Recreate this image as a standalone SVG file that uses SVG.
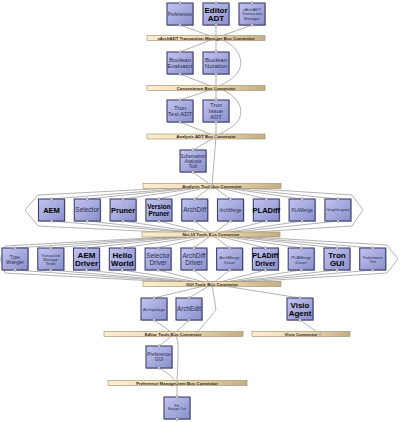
<svg xmlns="http://www.w3.org/2000/svg" width="400" height="422" viewBox="0 0 400 422">
<defs>
<linearGradient id="gBox" x1="0" y1="0" x2="1" y2="1">
<stop offset="0" stop-color="#c2c5f0"/>
<stop offset="1" stop-color="#8b8fcb"/>
</linearGradient>
<linearGradient id="gBar" x1="0" y1="0" x2="1" y2="0">
<stop offset="0" stop-color="#fbedcf"/>
<stop offset="0.6" stop-color="#ead7ad"/>
<stop offset="1" stop-color="#c3ae84"/>
</linearGradient>
<g id="box">
<rect x="1" y="1" width="26" height="22" fill="#8a8aa0" opacity="0.5"/>
<rect x="0" y="0" width="26" height="22" fill="url(#gBox)" stroke="#3e416e" stroke-width="1.1"/>
<circle cx="13" cy="0" r="1.3" class="h"/>
<circle cx="13" cy="22" r="1.3" class="h"/>
</g>
</defs>
<style>
.c{fill:none;stroke:#7d7d7d;stroke-width:0.6}
.h{fill:#ececec;stroke:#6a6a6a;stroke-width:0.5}
.bar{fill:url(#gBar);stroke:#9d8b63;stroke-width:0.6}
.bl{font-family:"Liberation Sans",Arial,sans-serif;font-weight:bold;font-size:4.3px;fill:#2a2418;text-anchor:middle}
.t{font-family:"Liberation Sans",Arial,sans-serif;text-anchor:middle;fill:#2c2e4a}
.b{font-weight:bold;fill:#000}
</style>
<rect width="400" height="422" fill="#ffffff"/>
<g id="connectors">
<path class="c" d="M180,25 L216,38 M216,25 L216,38 M252,25 L216,38"/>
<path class="c" d="M216,38 L180,52 M216,38 L216,52"/>
<path class="c" d="M216,38 C236,43 246,59 238,72 C233,80 222,84 216,88"/>
<path class="c" d="M180,74 L216,88 M216,74 L216,88"/>
<path class="c" d="M216,88 L180,100 M216,88 L216,100"/>
<path class="c" d="M216,88 C236,93 246,108 238,121 C233,128 222,132 216,136.5"/>
<path class="c" d="M180,122 L216,136.5 M216,122 L216,136.5"/>
<path class="c" d="M216,136.5 L193,150 M216,136.5 L212,186 M193,172 L212,186"/>
<path class="c" d="M212,186 L51.5,199 M212,186 L87.3,199 M212,186 L123.1,199 M212,186 L158.9,199 M212,186 L194.7,199 M212,186 L230.5,199 M212,186 L266.3,199 M212,186 L302.1,199 M212,186 L337.9,199"/>
<path class="c" d="M212,186 L38,195 L25,210 L38,226 L212,234.5 M212,186 L352,195 L363,210 L352,226 L212,234.5"/>
<path class="c" d="M51.5,221 L212,234.5 M87.3,221 L212,234.5 M123.1,221 L212,234.5 M158.9,221 L212,234.5 M194.7,221 L212,234.5 M230.5,221 L212,234.5 M266.3,221 L212,234.5 M302.1,221 L212,234.5 M337.9,221 L212,234.5"/>
<path class="c" d="M212,234.5 L15,248 M212,234.5 L50.8,248 M212,234.5 L86.5,248 M212,234.5 L122.3,248 M212,234.5 L158.1,248 M212,234.5 L193.9,248 M212,234.5 L229.6,248 M212,234.5 L265.4,248 M212,234.5 L301.2,248 M212,234.5 L337,248 M212,234.5 L372.7,248"/>
<path class="c" d="M212,234.5 L5,246 L0.5,259 L5,273 L212,284 M212,234.5 L387,245 L398,259 L387,273 L212,284"/>
<path class="c" d="M15,270 L212,284 M50.8,270 L212,284 M86.5,270 L212,284 M122.3,270 L212,284 M158.1,270 L212,284 M193.9,270 L212,284 M229.6,270 L212,284 M265.4,270 L212,284 M301.2,270 L212,284 M337,270 L212,284 M372.7,270 L212,284"/>
<path class="c" d="M212,284 L154,298 M212,284 L189,298 M212,284 L300,298"/>
<path class="c" d="M212,284 L216,310 L196,334"/>
<path class="c" d="M154,320 L174,334 M189,320 L174,334 M300,320 L320,334"/>
<path class="c" d="M174,334 L159,346 M174,334 C180,338 178,352 177,383 M159,368 C166,372 172,376 177,383 M177,383 L177,397"/>
</g>
<g id="bus-xarchadt"><rect class="bar" x="147" y="35.5" width="118" height="5"/><text class="bl" x="206" y="39.5">xArchADT Transaction Manager Bus Connector</text><circle cx="216" cy="38" r="1.2" class="h"/></g>
<g id="bus-convenience"><rect class="bar" x="147" y="85.5" width="118" height="5"/><text class="bl" x="206" y="89.5">Convenience Bus Connector</text><circle cx="216" cy="88" r="1.2" class="h"/></g>
<g id="bus-analysis-adt"><rect class="bar" x="147" y="134" width="118" height="5"/><text class="bl" x="206" y="138">Analysis ADT Bus Connector</text><circle cx="216" cy="136.5" r="1.2" class="h"/></g>
<g id="bus-analysis-tool"><rect class="bar" x="143" y="183.5" width="138" height="5"/><text class="bl" x="212" y="187.5">Analysis Tool Bus Connector</text><circle cx="212" cy="186" r="1.2" class="h"/></g>
<g id="bus-netui"><rect class="bar" x="142" y="232" width="138" height="5"/><text class="bl" x="211" y="236">Net-UI Tools Bus Connector</text><circle cx="212" cy="234.5" r="1.2" class="h"/></g>
<g id="bus-gui"><rect class="bar" x="143" y="281.5" width="138" height="5"/><text class="bl" x="212" y="285.5">GUI Tools Bus Connector</text><circle cx="212" cy="284" r="1.2" class="h"/></g>
<g id="bus-editor"><rect class="bar" x="104" y="331.5" width="139" height="5"/><text class="bl" x="173" y="335.5">Editor Tools Bus Connector</text><circle cx="174" cy="334" r="1.2" class="h"/></g>
<g id="bus-visio"><rect class="bar" x="252" y="331.5" width="98" height="5"/><text class="bl" x="301" y="335.5">Visio Connector</text><circle cx="320" cy="334" r="1.2" class="h"/></g>
<g id="bus-prefmgmt"><rect class="bar" x="108" y="380.5" width="139" height="5"/><text class="bl" x="177" y="384.5">Preference Management Bus Connector</text><circle cx="177" cy="383" r="1.2" class="h"/></g>

<g id="preferences"><use href="#box" x="167" y="3"/><text class="t" x="180" y="15.6" font-size="4.5">Preferences</text></g>
<g id="editor-adt"><use href="#box" x="203" y="3"/><text class="t b" x="216" font-size="8"><tspan x="216" y="12.6">Editor</tspan><tspan x="216" y="20.8">ADT</tspan></text></g>
<g id="xarchadt-tm"><use href="#box" x="239" y="3"/><text class="t" font-size="4"><tspan x="252" y="11">xArchADT</tspan><tspan x="252" y="15.4">Transaction</tspan><tspan x="252" y="19.8">Manager</tspan></text></g>
<g id="boolean-evaluator"><use href="#box" x="167" y="52"/><text class="t" font-size="6"><tspan x="180" y="61.8">Boolean</tspan><tspan x="180" y="68.4">Evaluator</tspan></text></g>
<g id="boolean-notation"><use href="#box" x="203" y="52"/><text class="t" font-size="6"><tspan x="216" y="61.8">Boolean</tspan><tspan x="216" y="68.4">Notation</tspan></text></g>
<g id="tron-test-adt"><use href="#box" x="167" y="100"/><text class="t" font-size="6"><tspan x="180" y="109.8">Tron</tspan><tspan x="180" y="116.4">Test ADT</tspan></text></g>
<g id="tron-issue-adt"><use href="#box" x="203" y="100"/><text class="t" font-size="6"><tspan x="216" y="106.8">Tron</tspan><tspan x="216" y="113.1">Issue</tspan><tspan x="216" y="119.4">ADT</tspan></text></g>
<g id="schematron"><use href="#box" x="180" y="150"/><text class="t" font-size="4.6"><tspan x="193" y="157.6">Schematron</tspan><tspan x="193" y="162.6">Analysis</tspan><tspan x="193" y="167.6">Tool</tspan></text></g>

<g id="aem"><use href="#box" x="38.5" y="199"/><text class="t b" x="51.5" y="212.6" font-size="7.5">AEM</text></g>
<g id="selector"><use href="#box" x="74.3" y="199"/><text class="t" x="87.3" y="212.3" font-size="6.5">Selector</text></g>
<g id="pruner"><use href="#box" x="110.1" y="199"/><text class="t b" x="123.1" y="212.6" font-size="7.5">Pruner</text></g>
<g id="version-pruner"><use href="#box" x="145.9" y="199"/><text class="t b" font-size="6.5"><tspan x="158.9" y="208.8">Version</tspan><tspan x="158.9" y="215.8">Pruner</tspan></text></g>
<g id="archdiff"><use href="#box" x="181.7" y="199"/><text class="t" x="194.7" y="212.3" font-size="6.5">ArchDiff</text></g>
<g id="archmerge"><use href="#box" x="217.5" y="199"/><text class="t" x="230.5" y="211.6" font-size="4.5">ArchMerge</text></g>
<g id="pladiff"><use href="#box" x="253.3" y="199"/><text class="t b" x="266.3" y="212.6" font-size="7.5">PLADiff</text></g>
<g id="plamerge"><use href="#box" x="289.1" y="199"/><text class="t" x="302.1" y="211.6" font-size="4.5">PLAMerge</text></g>
<g id="graphlayout"><use href="#box" x="324.9" y="199"/><text class="t" x="337.9" y="211.4" font-size="4">GraphLayout</text></g>

<g id="type-wrangler"><use href="#box" x="2" y="248"/><text class="t" font-size="4.5"><tspan x="15" y="258.6">Type</tspan><tspan x="15" y="263.6">Wrangler</tspan></text></g>
<g id="tm-tester"><use href="#box" x="37.8" y="248"/><text class="t" font-size="3.8"><tspan x="50.8" y="256.6">Transaction</tspan><tspan x="50.8" y="260.8">Manager</tspan><tspan x="50.8" y="265">Tester</tspan></text></g>
<g id="aem-driver"><use href="#box" x="73.5" y="248"/><text class="t b" font-size="8"><tspan x="86.5" y="258.2">AEM</tspan><tspan x="86.5" y="266.4">Driver</tspan></text></g>
<g id="hello-world"><use href="#box" x="109.3" y="248"/><text class="t b" font-size="8"><tspan x="122.3" y="258.2">Hello</tspan><tspan x="122.3" y="266.4">World</tspan></text></g>
<g id="selector-driver"><use href="#box" x="145.1" y="248"/><text class="t" font-size="6.5"><tspan x="158.1" y="258.3">Selector</tspan><tspan x="158.1" y="265.3">Driver</tspan></text></g>
<g id="archdiff-driver"><use href="#box" x="180.9" y="248"/><text class="t" font-size="6.5"><tspan x="193.9" y="258.3">ArchDiff</tspan><tspan x="193.9" y="265.3">Driver</tspan></text></g>
<g id="archmerge-driver"><use href="#box" x="216.6" y="248"/><text class="t" font-size="4.2"><tspan x="229.6" y="258.5">ArchMerge</tspan><tspan x="229.6" y="263.5">Driver</tspan></text></g>
<g id="pladiff-driver"><use href="#box" x="252.4" y="248"/><text class="t b" font-size="7"><tspan x="265.4" y="258">PLADiff</tspan><tspan x="265.4" y="265.8">Driver</tspan></text></g>
<g id="plamerge-driver"><use href="#box" x="288.2" y="248"/><text class="t" font-size="4.2"><tspan x="301.2" y="258.5">PLAMerge</tspan><tspan x="301.2" y="263.5">Driver</tspan></text></g>
<g id="tron-gui"><use href="#box" x="324" y="248"/><text class="t b" font-size="8"><tspan x="337" y="258.2">Tron</tspan><tspan x="337" y="266.4">GUI</tspan></text></g>
<g id="performance-test"><use href="#box" x="359.7" y="248"/><text class="t" font-size="3.5"><tspan x="372.7" y="258.7">Performance</tspan><tspan x="372.7" y="262.7">Test</tspan></text></g>

<g id="archipelago"><use href="#box" x="141" y="298"/><text class="t" x="154" y="310.5" font-size="4.2">Archipelago</text></g>
<g id="archedit"><use href="#box" x="176" y="298"/><text class="t" x="189" y="311.3" font-size="6.3">ArchEdit</text></g>
<g id="visio-agent"><use href="#box" x="287" y="298"/><text class="t b" font-size="8"><tspan x="300" y="307.7">Visio</tspan><tspan x="300" y="315.9">Agent</tspan></text></g>
<g id="preference-gui"><use href="#box" x="146" y="346"/><text class="t" font-size="4.8"><tspan x="159" y="356">Preference</tspan><tspan x="159" y="361.3">GUI</tspan></text></g>
<g id="file-manager"><use href="#box" x="164" y="397"/><text class="t" font-size="3"><tspan x="177" y="406.5">File</tspan><tspan x="177" y="410">Manager Tool</tspan></text></g>
</svg>
